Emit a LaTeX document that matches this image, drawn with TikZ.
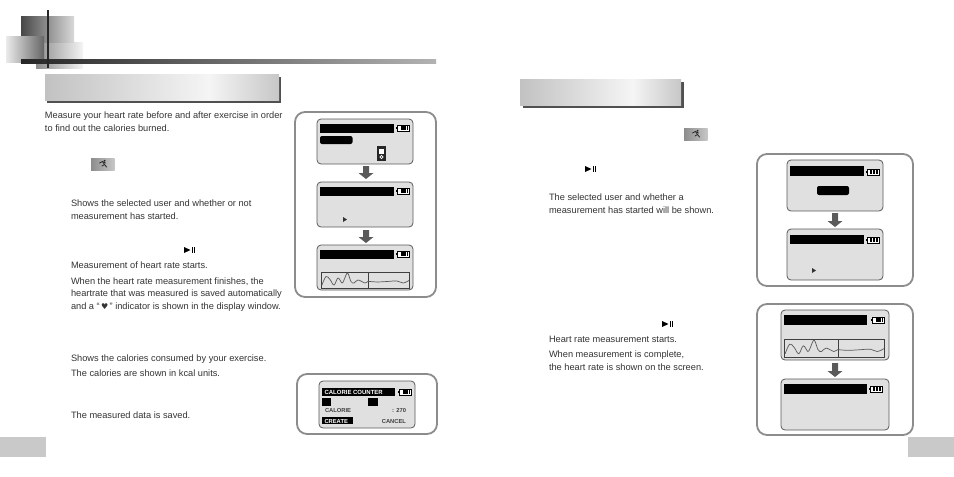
\documentclass[tikz,border=0pt]{standalone}
\usepackage{fontspec}
\setmainfont{Liberation Sans}
\newfontfamily\symfont{DejaVu Sans}
\definecolor{txt}{HTML}{333333}
\definecolor{fr}{HTML}{8C8C8C}
\definecolor{scr}{HTML}{E0E0E0}
\definecolor{edge}{HTML}{5A5A5A}
\definecolor{shadowc}{HTML}{505050}
\definecolor{pagec}{HTML}{C9C9C9}
\pgfdeclarehorizontalshading{titleshade}{100bp}{
  color(0bp)=(black!24); color(25bp)=(black!24); color(60bp)=(black!4); color(75bp)=(black!22); color(100bp)=(black!22)}
\tikzset{
  x=1pt,y=-1pt,
  body/.style={anchor=base west,inner sep=0pt,outer sep=0pt,text=txt,font=\fontsize{9.25}{11}\selectfont},
  lcd/.style={anchor=base west,inner sep=0pt,outer sep=0pt,text=black!75,font=\fontsize{5.8}{7}\selectfont\bfseries},
  framebox/.style={draw=fr,line width=1.8pt,rounded corners=10pt,fill=white},
  screenbox/.style={draw=edge,line width=0.8pt,rounded corners=4pt,fill=scr},
  graphbox/.style={draw=edge!70!black,line width=0.8pt},
  wave/.style={draw=edge,line width=0.7pt,smooth,tension=0.6},
  titlebar/.style={shading=titleshade},
}
\newcommand{\blockarrow}[3]{% cx, top, bottom
  \fill[edge] ({#1-3},#2) -- ({#1+3},#2) -- ({#1+3},{#3-6}) -- ({#1+7.5},{#3-6}) -- (#1,#3) -- ({#1-7.5},{#3-6}) -- ({#1-3},{#3-6}) -- cycle;}
\newcommand{\batt}[2]{% left, top: outline with a large cell
  \draw[black,line width=0.7pt,fill=white] ({#1+1.5},#2) rectangle ({#1+13},{#2+6});
  \fill[black] (#1,{#2+1.7}) rectangle ({#1+1.5},{#2+4.3});
  \fill[black] ({#1+4.5},{#2+0.8}) rectangle ({#1+9.5},{#2+5.2});
  \fill[black] ({#1+10.5},{#2+0.8}) rectangle ({#1+12.2},{#2+5.2});}
\newcommand{\battb}[2]{% left, top: outline with three bars
  \draw[black,line width=0.7pt,fill=white] ({#1+1.5},#2) rectangle ({#1+13},{#2+6});
  \fill[black] (#1,{#2+1.7}) rectangle ({#1+1.5},{#2+4.3});
  \fill[black] ({#1+4},{#2+0.8}) rectangle ({#1+6},{#2+5.2});
  \fill[black] ({#1+7},{#2+0.8}) rectangle ({#1+9},{#2+5.2});
  \fill[black] ({#1+10},{#2+0.8}) rectangle ({#1+12},{#2+5.2});}
\newcommand{\wavepair}[3]{% left, top, scale
  \begin{scope}[shift={(#1,#2)},xscale=#3,yscale=#3]
  \draw[wave] plot coordinates {(1,13)(5,4.5)(9,7.5)(13,13)(17,6)(21,11)(23,8)(26.5,1)(30,9.5)(33,11)(37,8)(44,11)(47,9.5)(56,10)(66,9.5)(76,9)(82,11)(88,8.5)};
  \end{scope}}
\newcommand{\runner}[2]{% left, top of icon
  \begin{scope}[shift={(#1,#2)}]
  \shade[left color=black!45,right color=black!22] (0,0) rectangle (23.5,12.5);
  \draw[black!85,line width=0.8pt,line cap=round] (8.5,5)--(11.5,3.5)--(13.5,6.5)--(15.5,9);
  \draw[black!85,line width=0.8pt,line cap=round] (13.5,6.5)--(11,8);
  \draw[black!85,line width=0.8pt,line cap=round] (11.5,3.5)--(14.5,5);
  \fill[black!85] (13.6,2.8) circle (1pt);
  \end{scope}}
\newcommand{\playpause}[2]{% left, top
  \fill[black] (#1,#2) -- ({#1+6.5},{#2+3}) -- (#1,{#2+6}) -- cycle;
  \fill[black] ({#1+7.5},#2) rectangle ({#1+8.7},{#2+6});
  \fill[black] ({#1+9.7},#2) rectangle ({#1+10.9},{#2+6});}
\newcommand{\cursor}[2]{% left, top
  \fill[black!80] (#1,#2) -- ({#1+4},{#2+2.5}) -- (#1,{#2+5}) -- cycle;}
\begin{document}
\begin{tikzpicture}
\useasboundingbox (0,0) rectangle (954,477);
% header ornament
\shade[left color=black!45,right color=black!4] (36,42) rectangle (83,68);
\shade[left color=black!72,right color=black!15] (21,16) rectangle (74,42);
\shade[left color=black!8,right color=black!60] (6,36) rectangle (44,62);
\shade[left color=black!85,right color=black!30] (21,59) rectangle (436,63);
\fill[black!85] (47.2,10) rectangle (49,68);
% page tabs
\fill[pagec] (0,437) rectangle (46,457);
\fill[pagec] (908,437) rectangle (954,457);
% title bars
\fill[shadowc] (47,77) rectangle (281,103);
\fill[titlebar] (45,74) rectangle (279,100);
\fill[shadowc] (523,82) rectangle (684,108);
\fill[titlebar] (520,79) rectangle (681,105);
% left body text
\node[body] (a1) at (45,118) {Measure your heart rate before and after exercise in order};
\node[body] (a2) at (45,131) {to find out the calories burned.};
\node[body] (a3) at (71,206.5) {Shows the selected user and whether or not};
\node[body] (a4) at (71,219) {measurement has started.};
\node[body] (a5) at (71,268.5) {Measurement of heart rate starts.};
\node[body] (a6) at (71,284) {When the heart rate measurement finishes, the};
\node[body] (a7) at (71,296.5) {heartrate that was measured is saved automatically};
\node[body] (a8) at (71,309) {and a “{\symfont\fontsize{8}{10}\selectfont\,♥\,}” indicator is shown in the display window.};
\node[body] (a9) at (71,361) {Shows the calories consumed by your exercise.};
\node[body] (a10) at (71,376) {The calories are shown in kcal units.};
\node[body] (a11) at (71,418) {The measured data is saved.};
% right body text
\node[body] (b1) at (549,200) {The selected user and whether a};
\node[body] (b2) at (549,213) {measurement has started will be shown.};
\node[body] (b3) at (549,342) {Heart rate measurement starts.};
\node[body] (b4) at (549,357) {When measurement is complete,};
\node[body] (b5) at (549,370) {the heart rate is shown on the screen.};
% icons
\runner{91}{158}
\runner{684}{128}
\playpause{184}{247}
\playpause{585}{166}
\playpause{662}{321}
% frame 1
\draw[framebox] (295,112) rectangle (436,297);
\draw[screenbox] (317,119) rectangle (413,164);
\fill[black] (320,124) rectangle (394,133);
\batt{396}{125}
\fill[black,rounded corners=2pt] (320,136) rectangle (352.5,144);
\fill[black!85] (377,146) rectangle (386,161);
\fill[white] (378.8,148.5) rectangle (384.2,153.5);
\draw[white,line width=0.6pt] (381.5,157) circle (1.6pt);
\blockarrow{366}{166}{179}
\draw[screenbox] (317,182) rectangle (413,227);
\fill[black] (320,187) rectangle (394,196);
\batt{396}{188}
\cursor{343}{217}
\blockarrow{366}{230}{243}
\draw[screenbox] (317,245) rectangle (413,290);
\fill[black] (320,250) rectangle (394,259);
\batt{396}{251}
\draw[graphbox] (321,272) rectangle (409,288);
\draw[graphbox,line width=1pt] (368,272) -- (368,288);
\wavepair{321}{272}{1}
% frame calorie
\draw[framebox] (297,374) rectangle (437,434);
\draw[screenbox] (319,381) rectangle (415,428);
\fill[black] (322,388) rectangle (395,396);
\batt{398}{389}
\node[lcd,text=white,font=\fontsize{6}{7}\selectfont\bfseries] (c1) at (324.5,394.5) {CALORIE COUNTER};
\fill[black] (322,398) rectangle (331,406);
\fill[black] (368,398) rectangle (378,406);
\node[lcd] (c2) at (325,412.5) {CALORIE};
\node[lcd,anchor=base east] (c3) at (406,412.5) {: 270};
\fill[black] (322,417) rectangle (353,424);
\node[lcd,text=white] (c4) at (324.5,423) {CREATE};
\node[lcd,anchor=base east] (c5) at (406,423) {CANCEL};
% frame right top
\draw[framebox] (757,154) rectangle (913,286);
\draw[screenbox] (787,160) rectangle (883,211);
\fill[black] (790,166) rectangle (864,176);
\battb{866}{169}
\fill[black,rounded corners=2pt] (817,186) rectangle (849,195);
\blockarrow{835}{213}{227}
\draw[screenbox] (787,229) rectangle (883,280);
\fill[black] (790,235) rectangle (864,244);
\battb{866}{237}
\cursor{812}{268}
% frame right bottom
\draw[framebox] (757,304) rectangle (913,435);
\draw[screenbox] (781,310) rectangle (889,360);
\fill[black] (784,315) rectangle (867,325);
\batt{871}{317}
\draw[graphbox] (784,339) rectangle (884,357);
\draw[graphbox,line width=1pt] (838,339) -- (838,357);
\wavepair{784}{339}{1.136}
\blockarrow{835}{363}{377}
\draw[screenbox] (781,379) rectangle (889,430);
\fill[black] (784,384) rectangle (867,394);
\battb{869}{386}
\end{tikzpicture}
\end{document}
